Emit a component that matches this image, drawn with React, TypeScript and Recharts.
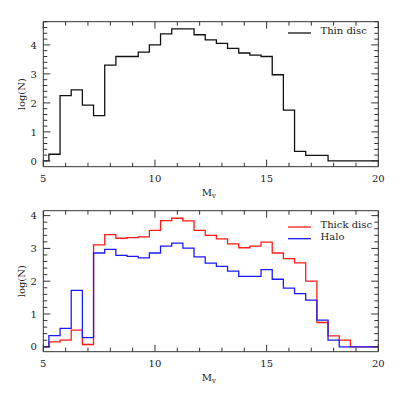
import React from 'react';
import { LineChart, Line, XAxis, YAxis, Legend, Label } from 'recharts';

// Absolute magnitude bin centres (bin width 0.5 mag)
const magnitudes = [
  5.0, 5.5, 6.0, 6.5, 7.0, 7.5, 8.0, 8.5, 9.0, 9.5, 10.0, 10.5, 11.0, 11.5, 12.0, 12.5,
  13.0, 13.5, 14.0, 14.5, 15.0, 15.5, 16.0, 16.5, 17.0, 17.5, 18.0, 18.5, 19.0, 19.5, 20.0,
];
const thinDisc = [
  0.0, 0.23, 2.25, 2.45, 1.92, 1.56, 3.3, 3.6, 3.6, 3.75, 4.0, 4.38, 4.55, 4.55, 4.35, 4.17,
  4.05, 3.88, 3.72, 3.65, 3.6, 2.97, 1.75, 0.33, 0.19, 0.19, 0.0, 0.0, 0.0, 0.0, 0.0,
];
const thickDisc = [
  0.0, 0.15, 0.2, 0.51, 0.07, 3.11, 3.42, 3.31, 3.33, 3.35, 3.55, 3.85, 3.92, 3.84, 3.55, 3.4,
  3.29, 3.14, 3.02, 3.07, 3.19, 2.86, 2.69, 2.56, 2.0, 0.74, 0.33, 0.2, 0.0, 0.0, 0.0,
];
const halo = [
  0.0, 0.34, 0.56, 1.72, 0.28, 2.86, 2.97, 2.79, 2.76, 2.71, 2.86, 3.07, 3.16, 3.01, 2.74, 2.55,
  2.45, 2.31, 2.15, 2.15, 2.35, 2.06, 1.79, 1.62, 1.42, 0.81, 0.2, 0.0, 0.0, 0.0, 0.0,
];

const xTicks = [5, 6, 7, 8, 9, 10, 11, 12, 13, 14, 15, 16, 17, 18, 19, 20];
const xMajorTicks = [5, 10, 15, 20];
const makeMinor = (from: number, count: number) =>
  Array.from({ length: count }, (_, i) => Math.round((from + i * 0.2) * 10) / 10);
const topYTicks = makeMinor(0, 25); // 0 .. 4.8
const bottomYTicks = makeMinor(0, 21); // 0 .. 4.0

const topData = magnitudes.map((m, i) => ({ m, thin: thinDisc[i] }));
const bottomData = magnitudes.map((m, i) => ({ m, thick: thickDisc[i], halo: halo[i] }));

const AX = '#333';
const TXT = '#222';
const FONT = "'DejaVu Serif', serif";
const FS = 10;
const MAJ = 7;
const MIN = 4;

const isInt = (v: number) => Math.abs(v - Math.round(v)) < 1e-6;

function BottomTick(props: any) {
  const { x, y, payload } = props;
  const v = payload.value;
  const major = xMajorTicks.includes(v);
  return (
    <g>
      <line x1={x} x2={x} y1={y} y2={y - (major ? MAJ : MIN)} stroke={AX} strokeWidth={1} />
      {major && (
        <text x={x} y={y + 15.3} textAnchor="middle" fontSize={FS} fontFamily={FONT} fill={TXT}>
          {v}
        </text>
      )}
    </g>
  );
}

function TopTick(props: any) {
  const { x, y, payload } = props;
  const major = xMajorTicks.includes(payload.value);
  return <line x1={x} x2={x} y1={y} y2={y + (major ? MAJ : MIN)} stroke={AX} strokeWidth={1} />;
}

function LeftTick(props: any) {
  const { x, y, payload } = props;
  const v = payload.value;
  const major = isInt(v);
  return (
    <g>
      <line x1={x} x2={x + (major ? MAJ : MIN)} y1={y} y2={y} stroke={AX} strokeWidth={1} />
      {major && (
        <text x={x - 6.5} y={y + 3.6} textAnchor="end" fontSize={FS} fontFamily={FONT} fill={TXT}>
          {Math.round(v)}
        </text>
      )}
    </g>
  );
}

function RightTick(props: any) {
  const { x, y, payload } = props;
  const major = isInt(payload.value);
  return <line x1={x} x2={x - (major ? MAJ : MIN)} y1={y} y2={y} stroke={AX} strokeWidth={1} />;
}

function YTitle(props: any) {
  const vb = props.viewBox || {};
  const cx = 22;
  const cy = vb.y + vb.height / 2;
  return (
    <text
      x={cx}
      y={cy}
      transform={`rotate(-90, ${cx}, ${cy})`}
      textAnchor="middle"
      dominantBaseline="central"
      fontSize={FS}
      fontFamily={FONT}
      fill={TXT}
    >
      log(N)
    </text>
  );
}

function XTitle(props: any) {
  const vb = props.viewBox || {};
  const cx = vb.x + vb.width / 2 - 2;
  const by = vb.y + 29;
  return (
    <text x={cx} y={by} textAnchor="middle" fontSize={FS} fontFamily={FONT} fill={TXT}>
      <tspan>M</tspan>
      <tspan fontSize={7} dy={2.5}>v</tspan>
    </text>
  );
}

function LegendBox(items: { label: string; color: string }[]) {
  return () => (
    <svg width={100} height={items.length * 12 + 12} style={{ overflow: 'visible', display: 'block' }}>
      {items.map((it, i) => (
        <g key={it.label}>
          <line x1={4} x2={27} y1={10 + i * 11.7} y2={10 + i * 11.7} stroke={it.color} strokeWidth={1.3} />
          <text x={36.5} y={11 + i * 11.7} fontSize={FS} fontFamily={FONT} fill={TXT}>
            {it.label}
          </text>
        </g>
      ))}
    </svg>
  );
}

const axisCommon = {
  tickSize: 0,
  tickMargin: 0,
  tickLine: false,
  interval: 0 as const,
  axisLine: { stroke: AX, strokeWidth: 1 },
  allowDataOverflow: true,
};

function Panel(props: {
  data: any[];
  height: number;
  margin: { top: number; right: number; bottom: number; left: number };
  yDomain: [number, number];
  yTicks: number[];
  series: { key: string; color: string }[];
  legend: { label: string; color: string }[];
  legendTop: number;
}) {
  const { data, height, margin, yDomain, yTicks, series, legend, legendTop } = props;
  return (
    <LineChart width={399} height={height} data={data} margin={margin}>
      <XAxis
        dataKey="m"
        type="number"
        domain={[5, 20]}
        ticks={xTicks}
        height={1}
        tick={<BottomTick />}
        label={<Label content={XTitle} />}
        {...axisCommon}
      />
      <XAxis
        xAxisId="top"
        orientation="top"
        dataKey="m"
        type="number"
        domain={[5, 20]}
        ticks={xTicks}
        height={1}
        tick={<TopTick />}
        {...axisCommon}
      />
      <YAxis
        type="number"
        domain={yDomain}
        ticks={yTicks}
        width={1}
        tick={<LeftTick />}
        label={<Label content={YTitle} />}
        {...axisCommon}
      />
      <YAxis
        yAxisId="right"
        orientation="right"
        type="number"
        domain={yDomain}
        ticks={yTicks}
        width={1}
        tick={<RightTick />}
        {...axisCommon}
      />
      {series.map((s) => (
        <Line
          key={s.key}
          type="step"
          dataKey={s.key}
          stroke={s.color}
          strokeWidth={1.3}
          dot={false}
          activeDot={false}
          isAnimationActive={false}
        />
      ))}
      <Legend
        layout="horizontal"
        verticalAlign="middle"
        align="center"
        content={LegendBox(legend)}
        wrapperStyle={{ top: legendTop, left: 284, width: 100, height: 30 }}
      />
    </LineChart>
  );
}

export default function App() {
  return (
    <div style={{ position: 'absolute', left: 0, top: 0, width: 399, height: 399, background: '#fff' }}>
      <div style={{ position: 'absolute', left: 0, top: 0 }}>
        <Panel
          data={topData}
          height={200}
          margin={{ top: 20.7, right: 19.7, bottom: 32.3, left: 42.3 }}
          yDomain={[-0.2, 4.8]}
          yTicks={topYTicks}
          series={[{ key: 'thin', color: '#111' }]}
          legend={[{ label: 'Thin disc', color: '#111' }]}
          legendTop={23}
        />
      </div>
      <div style={{ position: 'absolute', left: 0, top: 200 }}>
        <Panel
          data={bottomData}
          height={199}
          margin={{ top: 9.7, right: 19.7, bottom: 46.3, left: 42.3 }}
          yDomain={[-0.15, 4.15]}
          yTicks={bottomYTicks}
          series={[
            { key: 'thick', color: '#ff1a1a' },
            { key: 'halo', color: '#1a1aff' },
          ]}
          legend={[
            { label: 'Thick disc', color: '#ff1a1a' },
            { label: 'Halo', color: '#1a1aff' },
          ]}
          legendTop={17}
        />
      </div>
    </div>
  );
}
